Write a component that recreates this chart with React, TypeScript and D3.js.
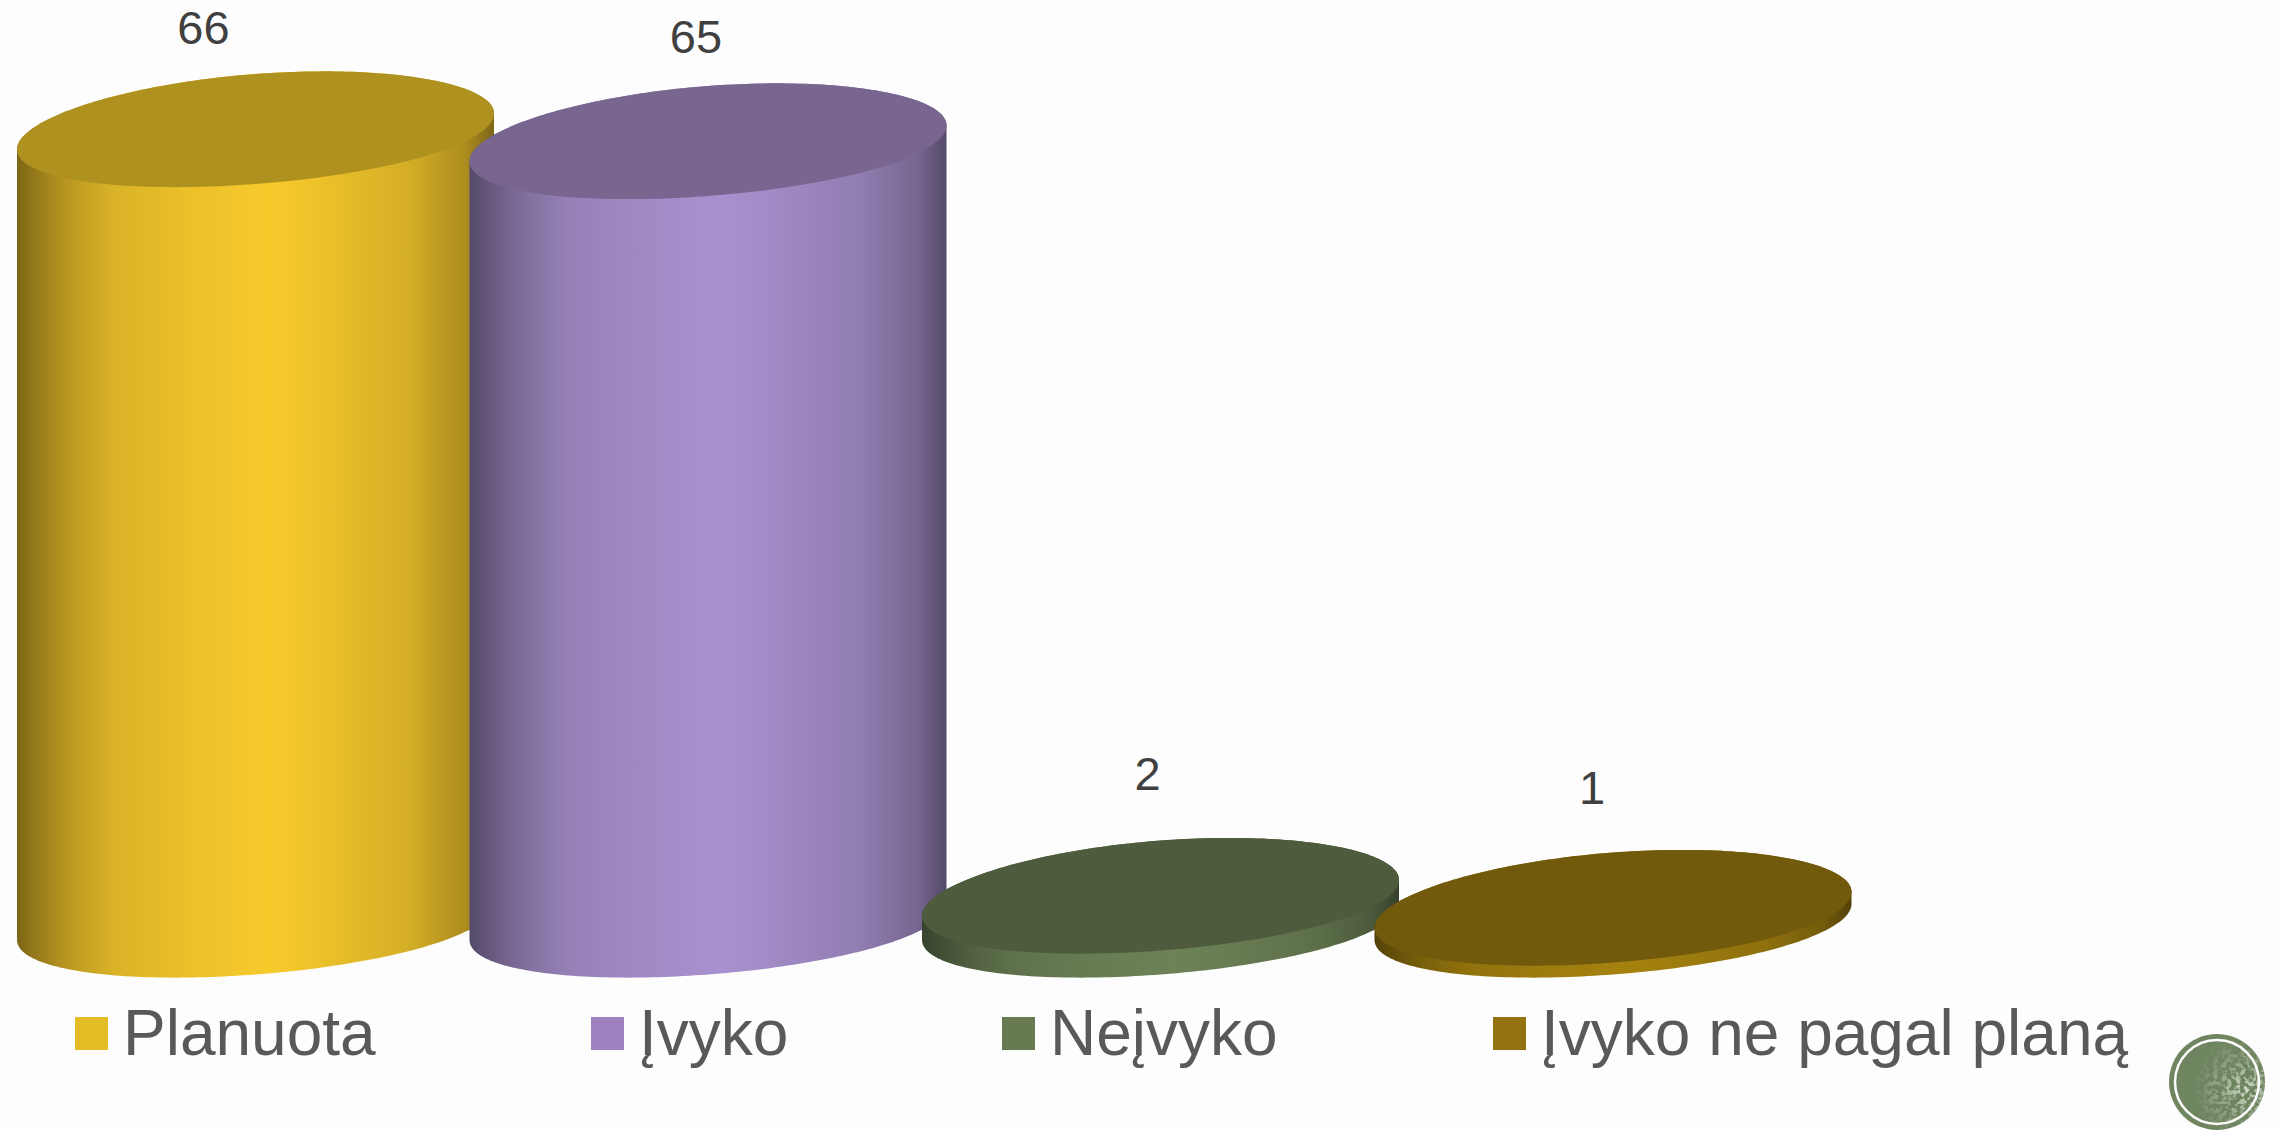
import * as d3 from "d3";

const categories = ["Planuota", "Įvyko", "Neįvyko", "Įvyko ne pagal planą"];
const values = [66, 65, 2, 1];
const sideColors = ["#f7ca2c", "#a891ce", "#6d8257", "#a5820f"];
const topColors = ["#ae911e", "#786590", "#4e5b3c", "#725a0d"];
const swatchColors = ["#e4bc25", "#9d82bf", "#677a51", "#94720f"];

// hand placed, the source chart's labels don't sit centred on the cylinders
const labelDx = [-52, -12, -13, -21];
const labelDy = [-27, -30, -48, -46];
const legendX = [75, 591, 1002, 1493];

const shadeOffsets = [0, 0.03, 0.1, 0.2, 0.36, 0.53, 0.63, 0.82, 0.94, 1];
const shadeFactors = [0.5, 0.58, 0.74, 0.88, 0.95, 1, 0.96, 0.86, 0.7, 0.5];

const W = 2281;
const H = 1130;
const RX = 238.5;
const RY = 55;
const SKEW = 18; // how far the right edge of each ellipse lifts
const SAG = 2.5; // both ends sit slightly below a true sheared ellipse

const x = d3.scalePoint<string>().domain(categories).range([255.5, 1613]);
const y = d3.scaleLinear().domain([0, 66]).range([919.5, 129]);

const pt = (cx: number, cy: number, t: number): [number, number] => {
    const c = Math.cos(t);
    return [cx + RX * c, cy + RY * Math.sin(t) - SKEW * c + SAG * c * c];
};

const curve = d3.line();
const steps = d3.range(0, 121).map((i) => (i / 120) * Math.PI);

// full ellipse for the cap
const capPath = (cx: number, cy: number) =>
    curve([...steps.map((t) => pt(cx, cy, t)), ...steps.map((t) => pt(cx, cy, t + Math.PI))]) + "Z";

// bottom half at the base, then back along the far half at the top
const sidePath = (cx: number, top: number, base: number) =>
    curve([
        ...steps.map((t) => pt(cx, base, t)),
        ...steps.map((t) => pt(cx, top, t + Math.PI)),
    ]) + "Z";

const shade = (c: string, f: number) => {
    const r = d3.rgb(c);
    return d3.rgb(r.r * f, r.g * f, r.b * f).formatHex();
};

export default function App() {
    return (
        <svg
            width={W}
            height={H}
            style={{ position: "fixed", left: 0, top: 0, display: "block" }}
            fontFamily="'Liberation Sans', Arial, sans-serif"
        >
            <defs>
                {sideColors.map((c, i) => (
                    <linearGradient key={i} id={`side-${i}`} x1="0" y1="0" x2="1" y2="0">
                        {shadeOffsets.map((o, j) => (
                            <stop key={j} offset={o} stopColor={shade(c, shadeFactors[j])} />
                        ))}
                    </linearGradient>
                ))}
                <radialGradient id="speck-fade" cx="0.8" cy="0.58" r="0.55">
                    <stop offset="0" stopColor="#d5dccb" stopOpacity={0.95} />
                    <stop offset="0.55" stopColor="#c0cab3" stopOpacity={0.45} />
                    <stop offset="1" stopColor="#c0cab3" stopOpacity={0} />
                </radialGradient>
                <filter id="speck" x="0" y="0" width="1" height="1">
                    <feTurbulence type="fractalNoise" baseFrequency="0.22" numOctaves={2} seed={4} />
                    <feColorMatrix values="0 0 0 0 0  0 0 0 0 0  0 0 0 0 0  0 0 0 7 -3.2" result="mask" />
                    <feComposite in="SourceGraphic" in2="mask" operator="in" />
                </filter>
            </defs>
            <rect width={W} height={H} fill="#fdfdfd" />

            {categories.map((cat, i) => {
                const cx = x(cat) as number;
                const top = y(values[i]);
                const base = y(0);
                return (
                    <g key={cat}>
                        <path d={sidePath(cx, top, base)} fill={`url(#side-${i})`} />
                        <path d={capPath(cx, top)} fill={topColors[i]} />
                    </g>
                );
            })}

            {categories.map((cat, i) => (
                <text
                    key={cat}
                    x={(x(cat) as number) + labelDx[i]}
                    y={y(values[i]) - 58 + labelDy[i]}
                    textAnchor="middle"
                    fontSize={47}
                    fill="#404040"
                >
                    {values[i]}
                </text>
            ))}

            {categories.map((cat, i) => (
                <g key={cat} transform={`translate(${legendX[i]},1017)`}>
                    <rect width={33} height={33} fill={swatchColors[i]} />
                    <text x={48} y={38} fontSize={64} fill="#595959">
                        {cat}
                    </text>
                </g>
            ))}

            <circle cx={2217} cy={1082} r={48} fill="#6f8560" />
            <circle cx={2217} cy={1082} r={48} fill="url(#speck-fade)" filter="url(#speck)" />
            <circle cx={2217} cy={1082} r={42} fill="none" stroke="#fdfdfd" strokeWidth={2.5} />
        </svg>
    );
}
